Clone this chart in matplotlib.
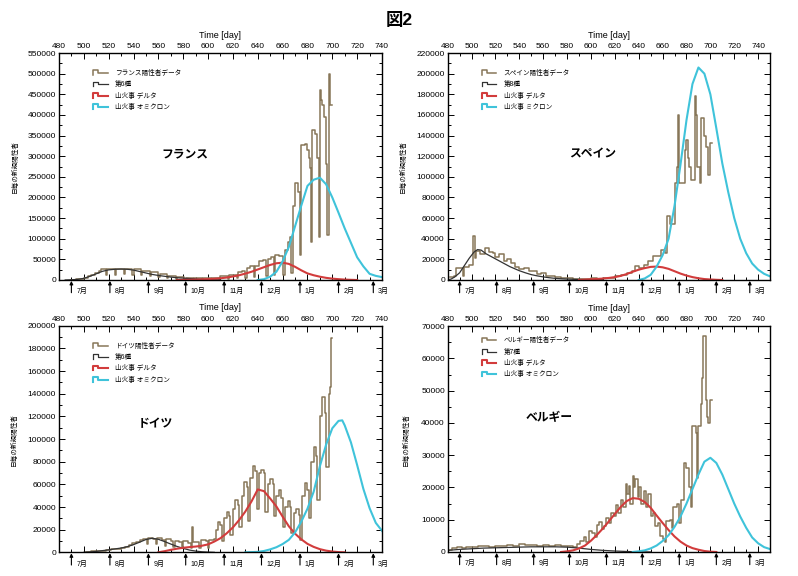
import numpy as np
import matplotlib
matplotlib.use('Agg')
import matplotlib.pyplot as plt
from matplotlib.legend_handler import HandlerBase
from matplotlib.lines import Line2D
from matplotlib.ticker import MultipleLocator, FuncFormatter

plt.rcParams['font.family'] = ['Liberation Sans', 'Noto Sans CJK JP']

# 月の境目 (day)
month_day = [490, 521, 552, 582, 613, 643, 674, 705, 733]
month_lbl = ['7月', '8月', '9月', '10月', '11月', '12月', '1月', '2月', '3月']

#### フランス
fr_obs_day = [490, 494, 497, 500, 503, 506, 509, 512, 514, 518, 519, 525, 526, 532, 533, 539, 540, 546, 547, 553,
              554, 560, 561, 567, 568, 574, 575, 581, 582, 588, 589, 595, 596, 602, 603, 609, 610, 616, 617, 623,
              624, 627, 630, 631, 634, 637, 638, 641, 644, 647, 648, 651, 653, 654, 657, 660, 662, 664, 666, 667,
              668, 670, 672, 674, 675, 678, 680, 681, 682, 683, 684, 686, 688, 689, 690, 691, 692, 693, 695, 696,
              697, 698, 699.5]
fr_obs_val = [500, 1500, 3000, 5500, 9000, 13000, 18000, 23000, 26000, 12000, 27000, 13000, 27000, 14000, 27000, 13000, 26000, 11000, 23000, 9000,
              19000, 7000, 14000, 5000, 10000, 3000, 7000, 2500, 5500, 2000, 5000, 2000, 5000, 2000, 6000, 2500, 9000, 3000, 13000, 4000,
              20000, 22000, 5000, 30000, 33000, 8000, 33000, 46000, 49000, 10000, 52000, 55000, 12000, 60000, 58000, 12000, 72000, 93000, 104000, 17000,
              180000, 234000, 214000, 60000, 327000, 330000, 315000, 295000, 271000, 92000, 363000, 355000, 295000, 104000, 460000, 436000, 424000, 396000, 280000, 109000,
              500000, 424000, 424000]
fr_w6_day = [485, 490, 495, 500, 505, 510, 515, 520, 525, 530, 535, 540, 545, 550, 555, 560, 565, 570, 575, 580,
             585, 590, 595, 600, 605, 610]
fr_w6_val = [0, 500, 1500, 4000, 9000, 15000, 21000, 24500, 26000, 26500, 26000, 24000, 20500, 17000, 13500, 11000, 9000, 7000, 5500, 4500,
             3500, 2500, 1600, 1000, 500, 200]
fr_dl_day = [575, 580, 585, 590, 595, 600, 605, 610, 615, 620, 625, 630, 635, 640, 645, 650, 655, 660, 665, 670,
             675, 680, 685, 690, 695, 700, 705, 710, 715, 720]
fr_dl_val = [0, 300, 600, 1000, 1500, 2200, 3000, 4200, 6000, 8500, 11500, 15500, 20000, 25500, 31000, 36500, 40500, 42000, 39000, 32000,
             23500, 16000, 11500, 8000, 5200, 3300, 2000, 1000, 400, 0]
fr_om_day = [640, 645, 650, 655, 660, 665, 670, 675, 680, 685, 690, 695, 700, 705, 710, 715, 720, 725, 730, 735, 740]
fr_om_val = [0, 2000, 8000, 20000, 45000, 80000, 130000, 180000, 228000, 243000, 248000, 232000, 200000, 163000, 125000, 90000, 55000, 33000, 15000, 10000, 7000]

#### スペイン
es_obs_day = [482, 485, 487, 493, 494, 498, 501, 503, 504, 507, 511, 515, 518, 520, 523, 527, 530, 533, 536, 540,
              544, 548, 551, 555, 558, 562, 566, 570, 575, 580, 585, 590, 595, 600, 605, 610, 615, 620, 625, 630,
              634, 637, 640, 644, 648, 652, 656, 659, 662, 664, 666, 670, 672, 673, 674, 679, 680, 681, 682, 684,
              687, 688, 689, 691, 692, 695, 696, 698, 700, 701]
es_obs_val = [2500, 3500, 11500, 4000, 13000, 15000, 43000, 21000, 28000, 25000, 31000, 27000, 26000, 22000, 25000, 18000, 20000, 16000, 13000, 10500,
              12000, 9000, 8500, 6000, 7000, 4000, 3500, 2500, 2000, 1500, 1200, 1000, 1200, 1500, 1200, 1800, 2000, 3500, 5000, 7000,
              9000, 14000, 12000, 15000, 18000, 23000, 23000, 29000, 26000, 62000, 54000, 94000, 110000, 160000, 94000, 126000, 136000, 118000, 110000, 97000,
              178000, 160000, 110000, 94000, 157000, 140000, 129000, 102000, 133000, 133000]
es_w8_day = [480, 483, 486, 490, 494, 498, 502, 505, 508, 512, 516, 520, 524, 528, 532, 536, 540, 545, 550, 555,
             560, 565, 570, 575, 580, 590, 600, 610]
es_w8_val = [0, 1000, 3000, 7000, 14000, 21000, 27000, 29500, 29000, 25500, 23000, 20500, 18000, 15500, 13000, 11000, 9000, 7000, 5200, 4000,
             3000, 2200, 1600, 1200, 900, 500, 200, 0]
es_dl_day = [590, 595, 600, 605, 610, 615, 620, 625, 630, 635, 640, 645, 650, 655, 660, 665, 670, 675, 680, 685,
             690, 695, 700, 705, 710]
es_dl_val = [0, 400, 700, 1000, 1400, 2000, 2800, 4000, 5800, 8000, 10000, 11500, 12700, 13000, 12300, 10800, 8500, 6200, 4300, 2800,
             1700, 900, 500, 200, 0]
es_om_day = [640, 645, 650, 655, 660, 665, 670, 675, 680, 685, 690, 695, 700, 705, 710, 715, 720, 725, 730, 735,
             740, 745, 750]
es_om_val = [0, 1500, 5000, 13000, 24000, 40000, 72000, 112000, 155000, 190000, 206000, 200000, 180000, 147000, 113000, 85000, 60000, 40000, 26000, 16000,
             10000, 6000, 3500]

#### ドイツ
de_obs_day = [502, 506, 510, 514, 518, 522, 526, 530, 533, 536, 539, 542, 545, 548, 551, 552, 556, 558, 559, 563,
              565, 566, 570, 572, 573, 577, 579, 580, 584, 586, 587, 588, 591, 593, 594, 598, 600, 601, 605, 606,
              608, 610, 611, 613, 615, 617, 618, 620, 622, 624, 625, 627, 629, 631, 632, 634, 636, 638, 639, 641,
              643, 645, 646, 648, 650, 652, 653, 655, 657, 659, 660, 662, 664, 666, 667, 669, 671, 673, 674, 676,
              678, 680, 681, 683, 685, 687, 688, 690, 692, 694, 695, 697, 698, 699, 699.8]
de_obs_val = [500, 800, 1200, 1500, 2000, 2500, 3000, 3500, 5000, 6500, 8000, 9000, 10500, 12000, 7000, 13000, 12000, 7000, 13000, 11000,
              6000, 12000, 10000, 5000, 10000, 9000, 4000, 10000, 8000, 4000, 22000, 9000, 9000, 4000, 11000, 10000, 4000, 11000, 12000, 20000,
              27000, 24000, 10000, 30000, 36000, 32000, 15000, 38000, 46000, 42000, 22000, 50000, 62000, 58000, 28000, 66000, 76000, 72000, 38000, 70000,
              73000, 70000, 36000, 60000, 65000, 60000, 32000, 50000, 55000, 48000, 22000, 40000, 45000, 40000, 17000, 35000, 38000, 33000, 11000, 50000,
              61000, 55000, 30000, 80000, 93000, 85000, 46000, 120000, 137000, 123000, 75000, 140000, 146000, 189000, 189000]
de_w6_day = [500, 505, 510, 515, 520, 525, 530, 535, 540, 545, 550, 555, 560, 565, 570, 575, 580, 585, 590, 595,
             600, 605]
de_w6_val = [0, 300, 800, 1500, 2200, 3000, 3800, 5000, 6800, 9000, 11300, 12400, 11500, 9500, 7300, 5200, 3500, 2000, 1100, 500,
             200, 0]
de_dl_day = [560, 565, 570, 575, 580, 585, 590, 595, 600, 605, 610, 615, 620, 625, 630, 635, 640, 645, 650, 655,
             660, 665, 670, 675, 680, 685, 690, 695, 700, 705, 710]
de_dl_val = [0, 1000, 2200, 3200, 4000, 4600, 5100, 5800, 7000, 9500, 12500, 16800, 22000, 28500, 36000, 45000, 55500, 54000, 47500, 40500,
             31500, 23000, 16500, 11500, 7500, 4800, 2800, 1500, 700, 200, 0]
de_om_day = [630, 640, 645, 650, 655, 660, 665, 670, 675, 680, 685, 690, 695, 700, 705, 708, 710, 715, 720, 725,
             730, 735, 740]
de_om_val = [0, 400, 1200, 2600, 4500, 7300, 11000, 17500, 27000, 38500, 53500, 76000, 95000, 109500, 116000, 116500, 112000, 97000, 77000, 56000,
             39000, 26000, 19000]

#### ベルギー
be_obs_day = [481, 484, 488, 492, 495, 500, 505, 510, 515, 520, 525, 530, 535, 540, 545, 550, 555, 560, 565, 570,
              575, 580, 585, 588, 591, 594, 596, 598, 601, 603, 605, 607, 609, 611, 613, 615, 617, 619, 621, 623,
              625, 627, 629, 630, 632, 633, 635, 636, 637, 639, 640, 642, 644, 646, 648, 650, 652, 654, 656, 658,
              660, 662, 663, 666, 668, 669, 672, 674, 675, 678, 680, 682, 684, 685, 688, 689, 690, 692, 693, 694,
              696, 697, 698, 700, 701]
be_obs_val = [700, 1200, 1500, 1200, 1600, 1400, 1700, 1800, 1600, 2000, 1800, 2200, 2000, 2400, 2100, 2300, 2000, 2300, 1900, 2200,
              1800, 2000, 1600, 2500, 3500, 4500, 3000, 6500, 6000, 4500, 8500, 9200, 7000, 8000, 10500, 9000, 12000, 11000, 14500, 12000,
              16000, 14000, 21000, 18000, 20500, 15000, 23500, 20000, 22500, 17000, 20000, 15000, 19000, 14000, 18000, 11000, 12000, 8000, 9000, 5000,
              4000, 3000, 9500, 10000, 7500, 14000, 15000, 9000, 16000, 27500, 26000, 20000, 14000, 39000, 37000, 23000, 39000, 46000, 54000, 67000,
              47000, 42000, 40000, 47000, 47000]
be_w7_day = [480, 490, 500, 510, 520, 530, 540, 550, 560, 570, 580, 590, 600, 610, 620, 630, 640, 650]
be_w7_val = [500, 800, 1000, 1200, 1300, 1400, 1500, 1600, 1600, 1600, 1500, 1200, 800, 500, 300, 150, 50, 0]
be_dl_day = [575, 580, 585, 590, 595, 600, 605, 610, 615, 620, 625, 630, 635, 640, 645, 650, 655, 660, 665, 670,
             675, 680, 685, 690, 695, 700, 705]
be_dl_val = [0, 200, 500, 1100, 2000, 3500, 5300, 7300, 9500, 11800, 14000, 15800, 16700, 16500, 15500, 13700, 11300, 9000, 6800, 4800,
             3200, 2000, 1200, 700, 300, 100, 0]
be_om_day = [635, 640, 645, 650, 655, 660, 665, 670, 675, 680, 685, 690, 695, 700, 705, 710, 715, 720, 725, 730,
             735, 740, 745, 750]
be_om_val = [0, 200, 500, 1100, 2000, 3400, 5200, 7800, 11000, 15000, 19500, 24000, 28000, 29200, 27600, 24000, 19500, 15000, 11000, 7500,
             4500, 2700, 1500, 900]

c_obs = '#877658'
c_wave = '#333333'
c_dl = '#d23c3c'
c_om = '#3fc3da'


class StepHandler(HandlerBase):
    # 凡例の線を階段の形にする
    def create_artists(self, legend, orig_handle, xdescent, ydescent, width, height, fontsize, trans):
        x = np.array([0, 0, 0.38, 0.38, 1.0]) * width - xdescent
        y = np.array([0.0, 1.0, 1.0, 0.45, 0.45]) * height - ydescent
        ln = Line2D(x, y, color=orig_handle.get_color(), lw=orig_handle.get_linewidth())
        ln.set_transform(trans)
        return [ln]


panels = [
    dict(rect=[0.0739, 0.5139, 0.4048, 0.394], xmax=740, ymax=550000, ystep=50000,
         name='フランス', name_xy=(0.39, 0.555), leg_xy=(0.105, 0.925), ylab_x=-0.124,
         obs=(fr_obs_day, fr_obs_val), wave=(fr_w6_day, fr_w6_val), dl=(fr_dl_day, fr_dl_val), om=(fr_om_day, fr_om_val),
         labels=['フランス陽性者データ', '第6種', '山火事 デルタ', '山火事 オミクロン']),
    dict(rect=[0.561, 0.5139, 0.404, 0.394], xmax=750, ymax=220000, ystep=20000,
         name='スペイン', name_xy=(0.45, 0.555), leg_xy=(0.105, 0.925), ylab_x=-0.126,
         obs=(es_obs_day, es_obs_val), wave=(es_w8_day, es_w8_val), dl=(es_dl_day, es_dl_val), om=(es_om_day, es_om_val),
         labels=['スペイン陽性者データ', '第8種', '山火事 デルタ', '山火事 ミクロン']),
    dict(rect=[0.0739, 0.0411, 0.4048, 0.3934], xmax=740, ymax=200000, ystep=20000,
         name='ドイツ', name_xy=(0.297, 0.566), leg_xy=(0.105, 0.925), ylab_x=-0.127,
         obs=(de_obs_day, de_obs_val), wave=(de_w6_day, de_w6_val), dl=(de_dl_day, de_dl_val), om=(de_om_day, de_om_val),
         labels=['ドイツ陽性者データ', '第6種', '山火事 デルタ', '山火事 オミクロン']),
    dict(rect=[0.561, 0.0417, 0.404, 0.392], xmax=750, ymax=70000, ystep=10000,
         name='ベルギー', name_xy=(0.314, 0.593), leg_xy=(0.105, 0.95), ylab_x=-0.117,
         obs=(be_obs_day, be_obs_val), wave=(be_w7_day, be_w7_val), dl=(be_dl_day, be_dl_val), om=(be_om_day, be_om_val),
         labels=['ベルギー陽性者データ', '第7種', '山火事 デルタ', '山火事 オミクロン']),
]

fig = plt.figure(figsize=(7.98, 5.76), dpi=100)
fig.text(0.5, 0.965, '図2', ha='center', va='center', fontsize=12.5, fontweight='bold')

for p in panels:
    ax = fig.add_axes(p['rect'])
    l1, = ax.step(p['obs'][0], p['obs'][1], where='post', color=c_obs, lw=1.1)
    l2, = ax.plot(p['wave'][0], p['wave'][1], color=c_wave, lw=0.9)
    l3, = ax.plot(p['dl'][0], p['dl'][1], color=c_dl, lw=1.5)
    l4, = ax.plot(p['om'][0], p['om'][1], color=c_om, lw=1.5)

    ax.set_xlim(480, p['xmax'])
    ax.set_ylim(0, p['ymax'])
    ax.xaxis.set_major_locator(MultipleLocator(20))
    ax.xaxis.set_minor_locator(MultipleLocator(10))
    ax.yaxis.set_major_locator(MultipleLocator(p['ystep']))
    ax.yaxis.set_minor_locator(MultipleLocator(p['ystep'] / 2))
    ax.yaxis.set_major_formatter(FuncFormatter(lambda v, pos: '%d' % v))
    ax.set_xticks([t for t in range(480, 741, 20)])
    ax.tick_params(axis='both', which='both', direction='in', top=True, bottom=True, left=True, right=True,
                   labeltop=True, labelbottom=False, labelsize=6, width=0.7)
    ax.tick_params(which='major', length=4, pad=2)
    ax.tick_params(which='minor', length=2)
    for s in ax.spines.values():
        s.set_linewidth(1.0)

    ax.xaxis.set_label_position('top')
    ax.set_xlabel('Time [day]', fontsize=6.5, labelpad=4)
    ax.set_ylabel('日毎の新規陽性者', fontsize=4.8)
    ax.yaxis.set_label_coords(p['ylab_x'], 0.5)

    ax.text(p['name_xy'][0], p['name_xy'][1], p['name'], transform=ax.transAxes,
            ha='center', va='center', fontsize=8.5, fontweight='bold')

    ax.legend([l1, l2, l3, l4], p['labels'], loc='upper left', bbox_to_anchor=p['leg_xy'],
              frameon=False, fontsize=4.8, handlelength=2.2, handletextpad=1.1, labelspacing=0.65,
              borderpad=0, borderaxespad=0, handler_map={Line2D: StepHandler()})

    # 月の矢印
    for d, m in zip(month_day, month_lbl):
        ax.annotate('', xy=(d, -0.004), xycoords=('data', 'axes fraction'),
                    xytext=(0, -8.5), textcoords='offset points',
                    arrowprops=dict(arrowstyle='-|>', lw=0.8, color='k', mutation_scale=5,
                                    shrinkA=0, shrinkB=0),
                    annotation_clip=False)
        ax.annotate(m, xy=(d, 0), xycoords=('data', 'axes fraction'),
                    xytext=(3.5, -8.5), textcoords='offset points',
                    ha='left', va='center', fontsize=5, annotation_clip=False)

fig.savefig('out.png', dpi=100)
